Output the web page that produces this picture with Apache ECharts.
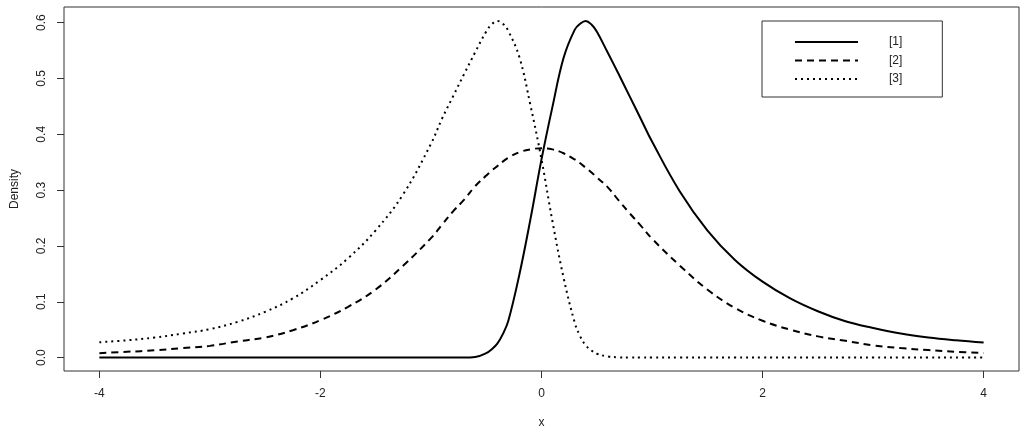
<!DOCTYPE html>
<html>
<head>
<meta charset="utf-8">
<script src="https://cdn.jsdelivr.net/npm/echarts@6/dist/echarts.min.js"></script>
<style>
html,body{margin:0;padding:0;background:#fff;}
#chart{width:1024px;height:433px;}
</style>
</head>
<body>
<div id="chart"></div>
<script>
// x positions where the curves were read
var xs = [-4,-3.75,-3.5,-3.25,-3,-2.75,-2.5,-2.25,-2,-1.75,-1.5,-1.25,-1,-0.9,-0.8,-0.7,-0.6,-0.5,-0.45,-0.4,-0.35,-0.3,-0.2,-0.1,0,0.1,0.2,0.3,0.35,0.4,0.45,0.5,0.6,0.7,0.8,0.9,1,1.25,1.5,1.75,2,2.25,2.5,2.75,3,3.25,3.5,3.75,4];
// series [1] (solid)
var s1 = [0,0,0,0,0,0,0,0,0,0,0,0,0,0,0,0,0.001,0.008,0.015,0.025,0.042,0.066,0.149,0.248,0.355,0.450,0.537,0.587,0.598,0.603,0.597,0.584,0.546,0.507,0.467,0.427,0.387,0.298,0.228,0.175,0.136,0.106,0.083,0.065,0.053,0.043,0.036,0.031,0.027];
// series [2] (dashed)
var s2 = [0.008,0.0104,0.013,0.017,0.021,0.029,0.036,0.049,0.067,0.091,0.122,0.165,0.214,0.238,0.262,0.283,0.307,0.326,0.335,0.343,0.351,0.358,0.368,0.373,0.375,0.373,0.366,0.355,0.348,0.340,0.332,0.323,0.305,0.281,0.258,0.236,0.213,0.165,0.122,0.089,0.066,0.050,0.038,0.030,0.022,0.017,0.0135,0.0104,0.0083];
// series [3] (dotted)
var s3 = [0.0275,0.031,0.036,0.043,0.051,0.064,0.082,0.106,0.139,0.178,0.228,0.293,0.383,0.428,0.468,0.508,0.547,0.584,0.597,0.603,0.598,0.585,0.538,0.452,0.355,0.243,0.143,0.063,0.038,0.022,0.013,0.007,0.002,0.0005,0,0,0,0,0,0,0,0,0,0,0,0,0,0,0];
var seriesNames = ['[1]','[2]','[3]'];
var xTicks = [-4,-2,0,2,4];
var yTicks = [0,0.1,0.2,0.3,0.4,0.5,0.6];

function pairs(arr){ return xs.map(function(x,i){ return [x, arr[i]]; }); }

var FONT = '"Liberation Sans", Arial, sans-serif';
var chart = echarts.init(document.getElementById('chart'), null, {renderer:'canvas'});
chart.setOption({
  animation:false,
  backgroundColor:'#fff',
  textStyle:{fontFamily:FONT},
  grid:{left:64,right:5,top:7,bottom:62,show:true,borderColor:'#333',borderWidth:1,backgroundColor:'transparent',containLabel:false,outerBoundsMode:'none'},
  xAxis:{
    type:'value',min:-4.32,max:4.32,
    name:'x',nameLocation:'middle',nameGap:46,
    nameTextStyle:{fontSize:12,color:'#222',fontFamily:FONT},
    axisLine:{show:false,onZero:false},
    splitLine:{show:false},
    axisTick:{show:true,length:7,customValues:xTicks,lineStyle:{color:'#333'}},
    axisLabel:{customValues:xTicks,fontSize:12,color:'#222',margin:17,fontFamily:FONT,formatter:function(v){return String(v);}}
  },
  yAxis:{
    type:'value',min:-0.024,max:0.628,
    name:'Density',nameLocation:'middle',nameGap:43,
    nameTextStyle:{fontSize:12,color:'#222',fontFamily:FONT},
    axisLine:{show:false,onZero:false},
    splitLine:{show:false},
    axisTick:{show:true,length:7,customValues:yTicks,lineStyle:{color:'#333'}},
    axisLabel:{customValues:yTicks,rotate:90,fontSize:12,color:'#222',margin:16,fontFamily:FONT,formatter:function(v){return v.toFixed(1);}}
  },
  legend:{
    orient:'vertical',left:762,top:21,
    data:seriesNames,
    itemWidth:63,itemHeight:14,itemGap:6.5,
    padding:[15,40,12,32],
    borderColor:'#333',borderWidth:1,
    itemStyle:{opacity:0},
    textStyle:{fontSize:12,color:'#222',fontFamily:FONT,padding:[0,0,0,26]}
  },
  series:[
    {name:seriesNames[0],type:'line',data:pairs(s1),showSymbol:false,symbol:'none',smooth:0.4,
     lineStyle:{color:'#000',width:2,type:'solid'},itemStyle:{color:'#000'}},
    {name:seriesNames[1],type:'line',data:pairs(s2),showSymbol:false,symbol:'none',smooth:0.4,
     lineStyle:{color:'#000',width:2,type:[7,5]},itemStyle:{color:'#000'}},
    {name:seriesNames[2],type:'line',data:pairs(s3),showSymbol:false,symbol:'none',smooth:0.4,
     lineStyle:{color:'#000',width:2,type:[2,4]},itemStyle:{color:'#000'}}
  ]
});
</script>
</body>
</html>
